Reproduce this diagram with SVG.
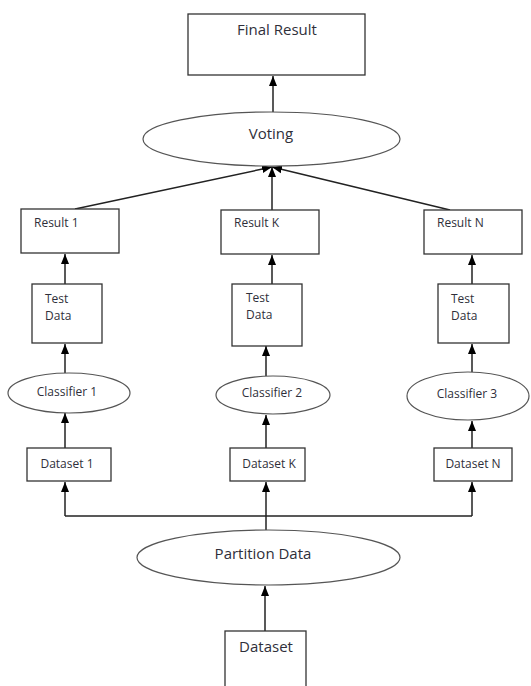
<svg xmlns="http://www.w3.org/2000/svg" width="531" height="686" viewBox="0 0 531 686">
<defs>
<style>
.box{fill:#fff;stroke:#333;stroke-width:1.3}
.ell{fill:#fff;stroke:#555;stroke-width:1.2}
.t{font-family:"Open Sans","DejaVu Sans",sans-serif;fill:#2f2f3a}
.big{font-size:15px}
.sm{font-size:12px}
.c{text-anchor:middle}
.ln{fill:none;stroke:#222;stroke-width:1.5}
</style>
<marker id="ah" markerUnits="userSpaceOnUse" markerWidth="10" markerHeight="10" viewBox="0 0 10 10" refX="10" refY="5" orient="auto">
<path d="M0,1 L10,5 L0,9 Z" fill="#000"/>
</marker>
</defs>
<g id="connectors">
<line class="ln" x1="273" y1="112" x2="273" y2="76" marker-end="url(#ah)"/>
<line class="ln" x1="75" y1="209" x2="272" y2="167" marker-end="url(#ah)"/>
<line class="ln" x1="272" y1="210" x2="272" y2="167" marker-end="url(#ah)"/>
<line class="ln" x1="450" y1="210" x2="272" y2="167" marker-end="url(#ah)"/>
<line class="ln" x1="65" y1="284" x2="65" y2="254" marker-end="url(#ah)"/>
<line class="ln" x1="272" y1="284" x2="272" y2="255" marker-end="url(#ah)"/>
<line class="ln" x1="472" y1="284" x2="472" y2="255" marker-end="url(#ah)"/>
<line class="ln" x1="65" y1="373" x2="65" y2="344" marker-end="url(#ah)"/>
<line class="ln" x1="266" y1="376" x2="266" y2="346" marker-end="url(#ah)"/>
<line class="ln" x1="472" y1="372" x2="472" y2="344" marker-end="url(#ah)"/>
<line class="ln" x1="65" y1="448" x2="65" y2="413" marker-end="url(#ah)"/>
<line class="ln" x1="266" y1="448" x2="266" y2="415" marker-end="url(#ah)"/>
<line class="ln" x1="472" y1="448" x2="472" y2="421" marker-end="url(#ah)"/>
<polyline class="ln" points="65,516 472,516"/>
<line class="ln" x1="65" y1="516" x2="65" y2="482" marker-end="url(#ah)"/>
<line class="ln" x1="266" y1="530" x2="266" y2="482" marker-end="url(#ah)"/>
<line class="ln" x1="472" y1="516" x2="472" y2="482" marker-end="url(#ah)"/>
<line class="ln" x1="265" y1="631" x2="265" y2="586" marker-end="url(#ah)"/>
</g>
<g id="final-result">
<rect class="box" x="188" y="14" width="177" height="61"/>
<text class="t big c" x="277" y="35">Final Result</text>
</g>
<g id="voting">
<ellipse class="ell" cx="271.5" cy="139" rx="128.5" ry="27"/>
<text class="t big c" x="271" y="139">Voting</text>
</g>
<g id="result-1">
<rect class="box" x="21" y="209" width="98" height="44"/>
<text class="t sm" x="34" y="227">Result 1</text>
</g>
<g id="result-k">
<rect class="box" x="221" y="210" width="98" height="44"/>
<text class="t sm" x="234" y="227">Result K</text>
</g>
<g id="result-n">
<rect class="box" x="424" y="210" width="98" height="44"/>
<text class="t sm" x="437" y="227">Result N</text>
</g>
<g id="test-data-1">
<rect class="box" x="32" y="284" width="70" height="59"/>
<text class="t sm" x="45" y="303">Test</text>
<text class="t sm" x="45" y="320">Data</text>
</g>
<g id="test-data-k">
<rect class="box" x="232" y="284" width="70" height="62"/>
<text class="t sm" x="246" y="302">Test</text>
<text class="t sm" x="246" y="319">Data</text>
</g>
<g id="test-data-n">
<rect class="box" x="438" y="284" width="71" height="59"/>
<text class="t sm" x="451" y="303">Test</text>
<text class="t sm" x="451" y="320">Data</text>
</g>
<g id="classifier-1">
<ellipse class="ell" cx="69" cy="393" rx="61" ry="20"/>
<text class="t sm c" x="67" y="396">Classifier 1</text>
</g>
<g id="classifier-2">
<ellipse class="ell" cx="273" cy="395" rx="57" ry="19"/>
<text class="t sm c" x="272" y="397">Classifier 2</text>
</g>
<g id="classifier-3">
<ellipse class="ell" cx="468" cy="396" rx="61" ry="24"/>
<text class="t sm c" x="467" y="398">Classifier 3</text>
</g>
<g id="dataset-1">
<rect class="box" x="27" y="448" width="84" height="33"/>
<text class="t sm c" x="67" y="468">Dataset 1</text>
</g>
<g id="dataset-k">
<rect class="box" x="230" y="448" width="75" height="33"/>
<text class="t sm c" x="269" y="468">Dataset K</text>
</g>
<g id="dataset-n">
<rect class="box" x="434" y="448" width="78" height="33"/>
<text class="t sm c" x="473" y="468">Dataset N</text>
</g>
<g id="partition-data">
<ellipse class="ell" cx="268.5" cy="557.5" rx="131.5" ry="27.5"/>
<text class="t big c" x="263" y="559">Partition Data</text>
</g>
<g id="dataset">
<rect class="box" x="225" y="631" width="81" height="60"/>
<text class="t big c" x="266" y="652">Dataset</text>
</g>
</svg>
